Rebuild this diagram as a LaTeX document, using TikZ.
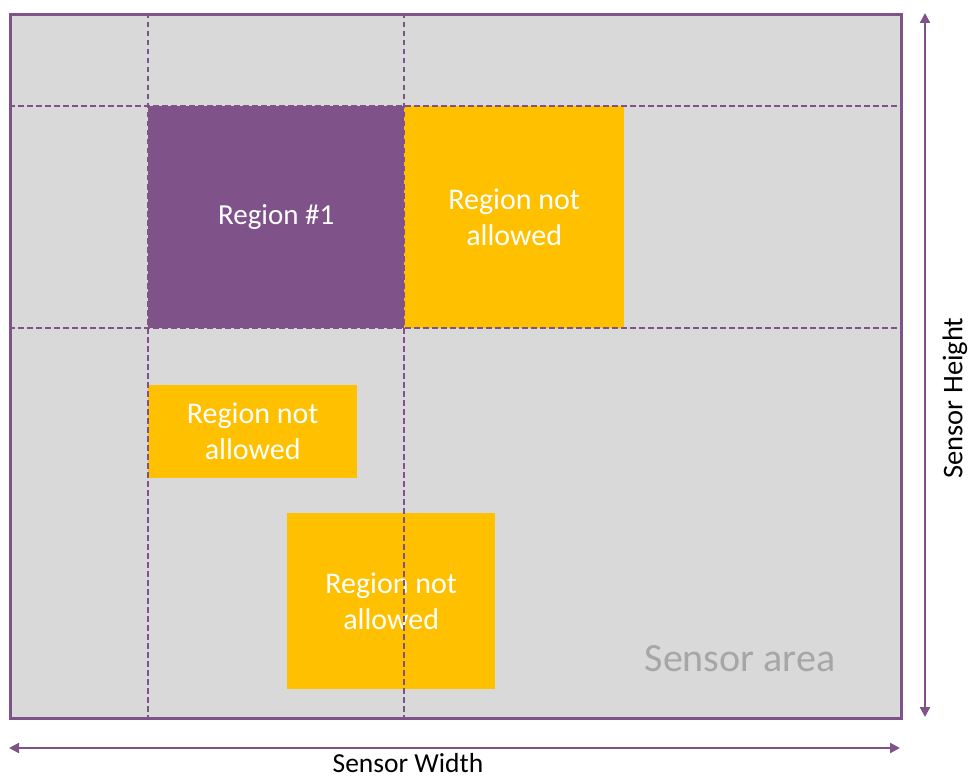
\documentclass[tikz,border=0pt]{standalone}
\usepackage{fontspec}
\setmainfont{Carlito}
\usepackage{xcolor}
\usetikzlibrary{arrows.meta, positioning}
\definecolor{roiColor}{RGB}{127, 82, 137}
\definecolor{blockColor}{RGB}{255, 192, 0}
\definecolor{sensorColor}{RGB}{217, 217, 217}
\definecolor{labelColor}{RGB}{166, 166, 166}

\begin{document}
\begin{tikzpicture}[x=1pt, y=-1pt,
    sensor/.style={rectangle, draw=roiColor, line width=2.8pt, fill=sensorColor, anchor=north west, inner sep=0pt},
    roi/.style={rectangle, fill=roiColor, text=white, anchor=north west, inner sep=0pt, font=\fontsize{29}{36}\selectfont, align=center},
    blocked/.style={rectangle, fill=blockColor, text=white, anchor=north west, inner sep=0pt, font=\fontsize{30}{36}\selectfont, align=center},
    gridline/.style={roiColor, line width=2.2pt, dash pattern=on 5.5pt off 3.5pt},
    dim/.style={roiColor, line width=2.2pt, {Triangle[length=10pt,width=10pt]}-{Triangle[length=10pt,width=10pt]}}]

    \useasboundingbox (0,0) rectangle (968,778);

    \node (sensor) [sensor, minimum width=891pt, minimum height=704pt] at (9,13) {};

    % regions that may not be used
    \node (nogo1) [blocked, minimum width=220pt, minimum height=222pt] at (404,106) {Region not\\allowed};
    \node (nogo2) [blocked, minimum width=209pt, minimum height=93pt] at (148,385) {Region not\\allowed};
    \node (nogo3) [blocked, minimum width=208pt, minimum height=176pt] at (287,513) {Region not\\allowed};

    % grid of the first region
    \coordinate (gx1) at (148,106);
    \coordinate (gx2) at (404,328);
    \draw[gridline] (gx1 |- sensor.north) -- (gx1 |- sensor.south);
    \draw[gridline] (gx2 |- sensor.north) -- (gx2 |- sensor.south);
    \draw[gridline] (gx1 -| sensor.west) -- (gx1 -| sensor.east);
    \draw[gridline] (gx2 -| sensor.west) -- (gx2 -| sensor.east);

    \node (roi1) [roi, minimum width=256pt, minimum height=222pt] at (gx1) {Region \#1};

    \node (area) [text=labelColor, font=\fontsize{40}{44}\selectfont] at (740,659) {Sensor area};

    % sensor dimensions
    \coordinate (wl) at (9,748);
    \coordinate (wr) at (900,748);
    \draw[dim] (wl) -- (wr);
    \node (width) [font=\fontsize{27.5}{30}\selectfont, inner sep=1pt] at (408,763) {Sensor Width};

    \coordinate (ht) at (925,13);
    \coordinate (hb) at (925,717);
    \draw[dim] (ht) -- (hb);
    \node (height) [rotate=90, font=\fontsize{28.5}{32}\selectfont] at (955,398) {Sensor Height};

\end{tikzpicture}
\end{document}
